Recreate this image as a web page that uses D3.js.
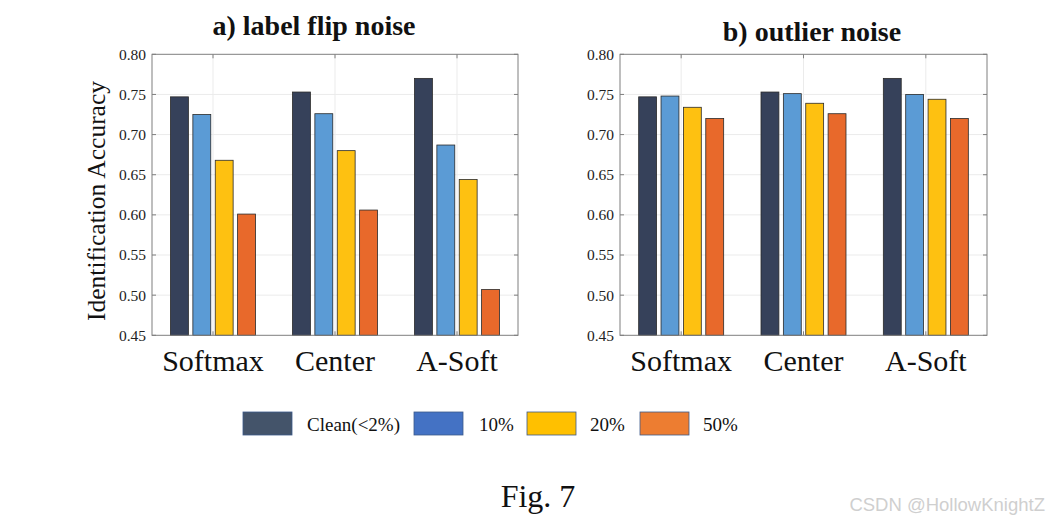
<!DOCTYPE html>
<html><head><meta charset="utf-8">
<script src="https://cdn.jsdelivr.net/npm/d3@7"></script>
<style>body{margin:0;background:#fff}svg{display:block}</style>
</head><body>
<svg id="c" width="1052" height="523"></svg>
<script>
const categories = ["Softmax", "Center", "A-Soft"];
const seriesNames = ["Clean(<2%)", "10%", "20%", "50%"];
const labelFlip = {
  "Clean(<2%)": [0.747, 0.753, 0.770],
  "10%": [0.725, 0.726, 0.687],
  "20%": [0.668, 0.680, 0.644],
  "50%": [0.601, 0.606, 0.507]
};
const outlier = {
  "Clean(<2%)": [0.747, 0.753, 0.770],
  "10%": [0.748, 0.751, 0.750],
  "20%": [0.734, 0.739, 0.744],
  "50%": [0.720, 0.726, 0.720]
};
const yTicks = [0.45, 0.50, 0.55, 0.60, 0.65, 0.70, 0.75, 0.80];
const barColors = ["#36415a", "#5b9bd5", "#fec111", "#e8692b"];
const legendColors = ["#44546a", "#4472c4", "#ffc000", "#ed7d31"];

const svg = d3.select("#c");
const serif = "'Liberation Serif', 'Times New Roman', serif";

function panel(x0, x1, data, title, titleX, titleY) {
  const y = d3.scaleLinear().domain([0.45, 0.80]).range([335.3, 54.3]);
  const x = d3.scaleBand().domain(categories).range([x0, x1]).padding(0);
  const g = svg.append("g");
  g.selectAll(".hg").data(yTicks.slice(1, -1)).join("line")
    .attr("x1", x0).attr("x2", x1).attr("y1", d => y(d)).attr("y2", d => y(d))
    .attr("stroke", "#ebebeb").attr("stroke-width", 1);
  g.selectAll(".vg").data(categories).join("line")
    .attr("x1", d => x(d) + x.bandwidth() / 2).attr("x2", d => x(d) + x.bandwidth() / 2)
    .attr("y1", y(0.45)).attr("y2", y(0.80))
    .attr("stroke", "#ebebeb").attr("stroke-width", 1);
  const gw = 85;
  const inner = d3.scaleBand().domain(seriesNames).range([0, gw]).paddingInner(0.2);
  const off = (x.bandwidth() - gw) / 2;
  seriesNames.forEach((s, si) => {
    g.selectAll(null).data(categories).join("rect")
      .attr("x", (d) => x(d) + off + inner(s))
      .attr("width", inner.bandwidth())
      .attr("y", (d, i) => y(data[s][i]))
      .attr("height", (d, i) => y(0.45) - y(data[s][i]))
      .attr("fill", barColors[si])
      .attr("stroke", "#2a2a2a").attr("stroke-width", 0.8);
  });
  g.append("rect").attr("x", x0).attr("y", y(0.80)).attr("width", x1 - x0).attr("height", y(0.45) - y(0.80))
    .attr("fill", "none").attr("stroke", "#7f7f7f").attr("stroke-width", 1);
  yTicks.forEach(t => {
    g.append("line").attr("x1", x0).attr("x2", x0 + 4).attr("y1", y(t)).attr("y2", y(t)).attr("stroke", "#7f7f7f");
    g.append("line").attr("x1", x1).attr("x2", x1 - 4).attr("y1", y(t)).attr("y2", y(t)).attr("stroke", "#7f7f7f");
  });
  categories.forEach(c => {
    const cx = x(c) + x.bandwidth() / 2;
    g.append("line").attr("x1", cx).attr("x2", cx).attr("y1", y(0.45)).attr("y2", y(0.45) - 4).attr("stroke", "#7f7f7f");
    g.append("line").attr("x1", cx).attr("x2", cx).attr("y1", y(0.80)).attr("y2", y(0.80) + 4).attr("stroke", "#7f7f7f");
  });
  const ya = d3.axisLeft(y).tickValues(yTicks).tickFormat(d3.format(".2f")).tickSize(0).tickPadding(6);
  const yg = g.append("g").attr("transform", `translate(${x0},0)`).call(ya);
  yg.select(".domain").remove();
  yg.selectAll("text").attr("font-family", serif).attr("font-size", 15.5).attr("fill", "#222");
  const xa = d3.axisBottom(x).tickSize(0);
  const xg = g.append("g").attr("transform", `translate(0,${y(0.45)})`).call(xa);
  xg.select(".domain").remove();
  xg.selectAll("text").attr("font-family", serif).attr("font-size", 30).attr("fill", "#111")
    .attr("y", 36).attr("dy", null);
  g.append("text").attr("x", titleX).attr("y", titleY).attr("text-anchor", "middle")
    .attr("font-family", serif).attr("font-weight", "bold").attr("font-size", 28).attr("fill", "#111").text(title);
}

panel(152, 518, labelFlip, "a) label flip noise", 314, 35);
panel(620, 987, outlier, "b) outlier noise", 812, 41);

svg.append("text").attr("transform", "translate(105,201) rotate(-90)").attr("text-anchor", "middle")
  .attr("font-family", serif).attr("font-size", 25.5).attr("fill", "#111").text("Identification Accuracy");

const legX = [243, 414, 527, 640];
const textX = [307, 479, 590, 703];
seriesNames.forEach((s, i) => {
  svg.append("rect").attr("x", legX[i]).attr("y", 412).attr("width", 49).attr("height", 23)
    .attr("fill", legendColors[i]).attr("stroke", "#3d5a8a").attr("stroke-width", 0.8);
  svg.append("text").attr("x", textX[i]).attr("y", 431).attr("font-family", serif).attr("font-size", 19)
    .attr("fill", "#111").text(s);
});

svg.append("text").attr("x", 538).attr("y", 507).attr("text-anchor", "middle")
  .attr("font-family", serif).attr("font-size", 32).attr("fill", "#111").text("Fig. 7");

svg.append("text").attr("x", 1045).attr("y", 511).attr("text-anchor", "end")
  .attr("font-family", "'Liberation Sans', Arial, sans-serif").attr("font-size", 18.5).attr("fill", "#cfcfcf").text("CSDN @HollowKnightZ");
</script>
</body></html>
